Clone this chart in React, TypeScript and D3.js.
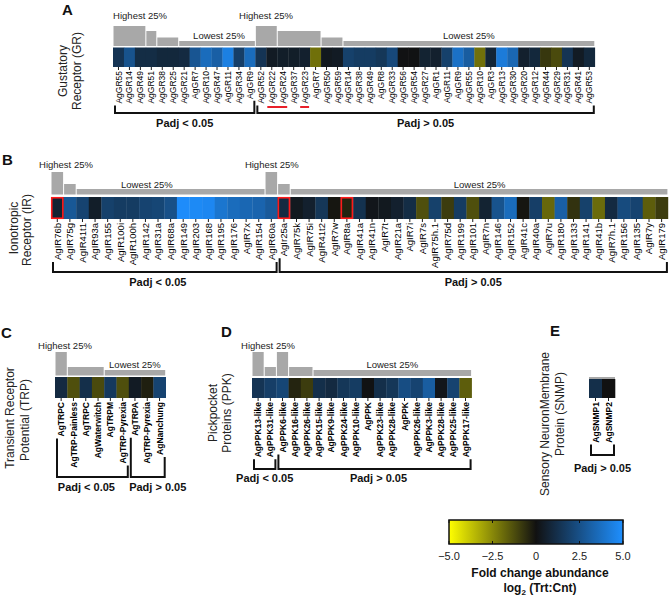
import React from 'react';
import * as d3 from 'd3';

// ---------------- DATA ----------------
const GR_LABELS = ["AgGR55","AgGR14","AgGR49","AgGR51","AgGR38","AgGR25","AgGR21","AgGR7","AgGR10","AgGR47","AgGR11","AgGR34","AgGR9",
  "AgGR52","AgGR22","AgGR24","AgGR37","AgGR23","AgGR7","AgGR50","AgGR59","AgGR14","AgGR38","AgGR49","AgGR8","AgGR33","AgGR56","AgGR54","AgGR27","AgGR1","AgGR11","AgGR9","AgGR55","AgGR10","AgGR3","AgGR13","AgGR30","AgGR20","AgGR12","AgGR44","AgGR29","AgGR31","AgGR41","AgGR53"];
const GR_VALUES = [1.4,2.6,1.1,1.1,0.9,0.9,1.0,2.7,3.6,3.1,4.4,1.8,3.6,
  1.4,0.4,0.5,0.5,0.6,-2.0,0.3,0.4,1.9,1.7,1.7,1.5,2.2,0.05,0.05,0.7,0.6,1.9,3.8,3.0,-2.0,0.8,4.2,3.4,0.6,0.9,-0.8,-1.2,1.4,0.4,0.9];
const GR_GROUPS = [13, 31];
const GR_QUARTILES: [number, number][] = [[0,3],[1,1],[2,2],[3,7],[0,2],[1,4],[2,2],[3,23]];

const IR_LABELS = ["AgIR76b","AgIR75g","AgIR41t1","AgIR93a","AgIR155","AgIR100i","AgIR100h","AgIR142","AgIR31a","AgIR68a","AgIR149","AgIR203","AgIR168","AgIR195","AgIR176","AgIR7x","AgIR154","AgIR60a",
  "AgIr25a","AgIR75k","AgIR75i","AgIR41t2","AgIR7w","AgIR8a","AgIR41a","AgIR41n","AgIR7t","AgIR21a","AgIR7i","AgIR7s","AgIR75h.1","AgIR75d","AgIR199","AgIR101","AgIR7n","AgIR146","AgIR152","AgIR41c","AgIR40a","AgIR7u","AgIR180","AgIR133","AgIR141","AgIR41b","AgIR7h.1","AgIR156","AgIR135","AgIR7y","AgIR179"];
const IR_VALUES = [0.7,2.8,2.0,0.5,1.9,1.7,1.7,2.0,2.1,2.5,4.9,4.8,4.7,4.0,3.6,3.4,3.3,2.9,
  1.0,0.3,0.6,1.5,-0.1,-0.4,1.3,0.2,0.3,0.6,1.1,-1.3,1.9,-0.9,1.7,-1.3,0.7,2.6,3.6,-0.1,1.8,-1.8,3.1,-0.7,1.9,-1.9,1.0,2.3,2.0,-1.6,-0.9];
const IR_GROUPS = [18, 31];
const IR_QUARTILES: [number, number][] = [[0,1],[1,1],[3,15],[0,1],[1,1],[3,30]];
const IR_MARKED = [0, 18, 23];

const TRP_LABELS = ["AgTRPC","AgTRP-Painless","AgTRPC","AgWaterwitch","AgTRPM","AgTRP-Pyrexia","AgTRPA","AgTRP-Pyrexia","AgNanchung"];
const TRP_VALUES = [1.0,-1.3,1.2,-1.2,1.6,-1.3,0.4,-0.3,2.0];
const TRP_GROUPS = [6, 3];
const TRP_QUARTILES: [number, number][] = [[0,1],[1,3],[3,5]];

const PPK_LABELS = ["AgPPK13-like","AgPPK31-like","AgPPK6-like","AgPPK16-like","AgPPK26-like","AgPPK15-like","AgPPK9-like","AgPPK24-like","AgPPK10-like","AgPPK","AgPPK23-like","AgPPK28-like","AgPPK","AgPPK26-like","AgPPK3-like","AgPPK28-like","AgPPK25-like","AgPPK17-like"];
const PPK_VALUES = [1.4,1.8,2.1,-0.4,-0.9,1.2,1.0,1.5,1.7,0.05,1.2,1.5,2.4,2.0,3.0,0.2,2.0,-1.6];
const PPK_GROUPS = [2, 16];
const PPK_QUARTILES: [number, number][] = [[0,1],[1,1],[0,1],[1,2],[3,13]];

const SNMP_LABELS = ["AgSNMP1","AgSNMP2"];
const SNMP_VALUES = [1.2, 0.0];
const SNMP_GROUPS = [2];

const COLOR_DOMAIN = [-5, 0, 5];
const COLOR_RANGE = ["#ffff00", "#111111", "#1e8fff"];
const COLORBAR_TICKS = [-5, -2.5, 0, 2.5, 5];

// ---------------- HELPERS ----------------
const FONT = '"Liberation Sans", Arial, Helvetica, sans-serif';
const color = d3.scaleLinear<string>().domain(COLOR_DOMAIN).range(COLOR_RANGE).clamp(true);

let _ctx: CanvasRenderingContext2D | null = null;
function measure(text: string, fs: number, bold: boolean) {
  if (!_ctx) _ctx = document.createElement('canvas').getContext('2d');
  if (!_ctx) return text.length * fs * 0.55;
  _ctx.font = `${bold ? 'bold ' : ''}${fs}px "Liberation Sans", Arial, sans-serif`;
  return _ctx.measureText(text).width;
}

type Cfg = {
  letter: string; letterX: number; letterY: number;
  title: string[]; titleX: number[]; titleCY: number[];
  labels: string[]; values: number[]; groups: number[];
  quart?: [number, number][];
  x0: number; cellW: number; cellTop: number; cellH: number;
  barBottom: number; levelH: number[];
  hiPos?: number[]; loPos?: number[]; hiY?: number; loY?: number;
  labelFs: number; labelBold: boolean;
  bracketY: number; padjY: number; padjDx?: number[];
  marked?: number[]; underlines?: [number, number][]; underlineY?: number;
  thinTop?: boolean;
};

const GREY = '#a8a8a8';

function Panel({ c }: { c: Cfg }) {
  const n = c.labels.length;
  const x = d3.scaleLinear().domain([0, n]).range([c.x0, c.x0 + n * c.cellW]);
  const cellBottom = c.cellTop + c.cellH;
  const labelStart = cellBottom + 4;

  const bars: { s: number; e: number; lvl: number }[] = [];
  if (c.quart) {
    let i = 0;
    c.quart.forEach(([lvl, cnt]) => { bars.push({ s: i, e: i + cnt, lvl }); i += cnt; });
  }
  const groups: { s: number; e: number; txt: string }[] = [];
  {
    let i = 0;
    c.groups.forEach((g, k) => {
      groups.push({ s: i, e: i + g, txt: k === 0 && c.groups.length > 1 ? 'Padj < 0.05' : 'Padj > 0.05' });
      i += g;
    });
  }
  const labLen = (i: number) => measure(c.labels[i], c.labelFs, c.labelBold);

  return (
    <g>
      <text x={c.letterX} y={c.letterY} fontSize={15} fontWeight="bold" fontFamily={FONT} fill="#111">{c.letter}</text>
      {c.title.map((t, i) => (
        <text key={'t' + i} transform={`translate(${c.titleX[i] + 4.2},${c.titleCY[i]}) rotate(-90)`} textAnchor="middle"
          fontSize={12} fontFamily={FONT} fill="#222">{t}</text>
      ))}
      {bars.map((b, i) => (
        <rect key={'b' + i} x={x(b.s) + 0.5} width={x(b.e) - x(b.s) - 1}
          y={c.barBottom - c.levelH[b.lvl]} height={c.levelH[b.lvl]} fill={GREY} />
      ))}
      {c.thinTop && <rect x={x(0)} width={x(n) - x(0)} y={c.cellTop - 2} height={2} fill={GREY} />}
      {(c.hiPos || []).map((p, i) => (
        <text key={'h' + i} x={x(p)} y={c.hiY} textAnchor="middle" fontSize={9.5} fontFamily={FONT} fill="#222">Highest 25%</text>
      ))}
      {(c.loPos || []).map((p, i) => (
        <text key={'l' + i} x={x(p)} y={c.loY} textAnchor="middle" fontSize={9.5} fontFamily={FONT} fill="#222">Lowest 25%</text>
      ))}
      {c.values.map((v, i) => (
        <rect key={'c' + i} x={x(i)} width={x(i + 1) - x(i) + 0.3} y={c.cellTop} height={c.cellH} fill={color(v)} />
      ))}
      {(c.marked || []).map((i) => (
        <rect key={'m' + i} x={x(i) + 0.75} width={x(i + 1) - x(i) - 1.5} y={c.cellTop + 0.75} height={c.cellH - 1.5}
          fill="none" stroke="#ff1a1a" strokeWidth={1.6} />
      ))}
      {c.labels.map((l, i) => {
        const cx = (x(i) + x(i + 1)) / 2;
        return (
          <g key={'lab' + i}>
            <line x1={cx} x2={cx} y1={cellBottom} y2={cellBottom + 3} stroke="#000" strokeWidth={0.9} />
            <text transform={`translate(${cx + c.labelFs * 0.36},${labelStart}) rotate(-90)`} textAnchor="end"
              fontSize={c.labelFs} fontWeight={c.labelBold ? 'bold' : 'normal'} fontFamily={FONT} fill="#000">{l}</text>
          </g>
        );
      })}
      {(c.underlines || []).map(([a, b], i) => (
        <line key={'u' + i} x1={x(a) + 1} x2={x(b + 1) - 1} y1={c.underlineY} y2={c.underlineY} stroke="#e8202a" strokeWidth={2} />
      ))}
      {groups.map((g, i) => {
        const l = x(g.s) + 2, r = x(g.e) - 1;
        const t1 = labelStart + labLen(g.s) + 2, t2 = labelStart + labLen(g.e - 1) + 2;
        const dx = c.padjDx ? c.padjDx[i] : 0;
        return (
          <g key={'g' + i}>
            <path d={`M${l},${t1}V${c.bracketY}H${r}V${t2}`} fill="none" stroke="#111" strokeWidth={2} />
            <text x={(l + r) / 2 + dx} y={c.padjY} textAnchor="middle" fontSize={11} fontWeight="bold" fontFamily={FONT} fill="#111">{g.txt}</text>
          </g>
        );
      })}
    </g>
  );
}

function ColorBar() {
  const x = d3.scaleLinear().domain([COLOR_DOMAIN[0], COLOR_DOMAIN[2]]).range([449, 623]);
  const top = 520, h = 24;
  const stops = d3.range(0, 1.0001, 0.1).map((f) => {
    const d = COLOR_DOMAIN[0] + f * (COLOR_DOMAIN[2] - COLOR_DOMAIN[0]);
    return { off: f, col: color(d) };
  });
  return (
    <g>
      <defs>
        <linearGradient id="cbar" x1="0" x2="1" y1="0" y2="0">
          {stops.map((s, i) => <stop key={i} offset={s.off} stopColor={s.col} />)}
        </linearGradient>
      </defs>
      <rect x={x(-5)} y={top} width={x(5) - x(-5)} height={h} fill="url(#cbar)" stroke="#111" strokeWidth={1.5} />
      {COLORBAR_TICKS.map((t) => (
        <g key={t}>
          <line x1={x(t)} x2={x(t)} y1={top} y2={top + 3} stroke="#111" strokeWidth={1} />
          <line x1={x(t)} x2={x(t)} y1={top + h - 3} y2={top + h} stroke="#111" strokeWidth={1} />
          <text x={x(t)} y={top + h + 16} textAnchor="middle" fontSize={11} fontFamily={FONT} fill="#222">
            {t === 0 ? '0' : d3.format('.1f')(t)}
          </text>
        </g>
      ))}
      <text x={540} y={577} textAnchor="middle" fontSize={12} fontWeight="bold" fontFamily={FONT} fill="#111">Fold change abundance</text>
      <text x={540} y={592} textAnchor="middle" fontSize={12} fontWeight="bold" fontFamily={FONT} fill="#111">
        log<tspan fontSize={8} dy={3}>2</tspan><tspan dy={-3}> (Trt:Cnt)</tspan>
      </text>
    </g>
  );
}

const PANELS: Cfg[] = [
  {
    letter: 'A', letterX: 62, letterY: 15,
    title: ['Gustatory', 'Receptor (GR)'], titleX: [63, 77], titleCY: [71, 71],
    labels: GR_LABELS, values: GR_VALUES, groups: GR_GROUPS, quart: GR_QUARTILES,
    x0: 113, cellW: 10.95, cellTop: 47.5, cellH: 19.5, barBottom: 46, levelH: [20, 15, 8.5, 5],
    hiPos: [2.47, 13.97], loPos: [9.68, 32.5], hiY: 18.5, loY: 38.5,
    labelFs: 8.5, labelBold: false, bracketY: 113, padjY: 127,
    underlines: [[14, 15], [17, 17]], underlineY: 107,
  },
  {
    letter: 'B', letterX: 2, letterY: 165,
    title: ['Ionotropic', 'Receptor (IR)'], titleX: [14, 27], titleCY: [228, 230],
    labels: IR_LABELS, values: IR_VALUES, groups: IR_GROUPS, quart: IR_QUARTILES,
    x0: 51, cellW: 12.59, cellTop: 197, cellH: 22, barBottom: 194.5, levelH: [22.5, 10.5, 8, 5.5],
    hiPos: [1.19, 17.54], loPos: [7.62, 34.05], hiY: 168, loY: 187.5,
    labelFs: 9.5, labelBold: false, bracketY: 272, padjY: 286, padjDx: [-7, 0],
    marked: IR_MARKED,
  },
  {
    letter: 'C', letterX: 1, letterY: 338,
    title: ['Transient Receptor', 'Potential (TRP)'], titleX: [10, 25], titleCY: [418, 420],
    labels: TRP_LABELS, values: TRP_VALUES, groups: TRP_GROUPS, quart: TRP_QUARTILES,
    x0: 55, cellW: 12.3, cellTop: 377, cellH: 21, barBottom: 375.5, levelH: [23.5, 8.5, 7, 5.5],
    hiPos: [0.81], loPos: [6.5], hiY: 349, loY: 368,
    labelFs: 8.5, labelBold: true, bracketY: 477, padjY: 491, padjDx: [-6, 10],
  },
  {
    letter: 'D', letterX: 221, letterY: 337,
    title: ['Pickpocket', 'Proteins (PPK)'], titleX: [213, 227], titleCY: [413, 413],
    labels: PPK_LABELS, values: PPK_VALUES, groups: PPK_GROUPS, quart: PPK_QUARTILES,
    x0: 252, cellW: 12.2, cellTop: 378, cellH: 20, barBottom: 376, levelH: [24, 9, 7, 6],
    hiPos: [1.31], loPos: [11.5], hiY: 349, loY: 368,
    labelFs: 8.5, labelBold: true, bracketY: 469, padjY: 482, padjDx: [0, 4],
  },
  {
    letter: 'E', letterX: 550, letterY: 336,
    title: ['Sensory NeuronMembrane', 'Protein (SNMP)'], titleX: [545, 560], titleCY: [424, 414],
    labels: SNMP_LABELS, values: SNMP_VALUES, groups: SNMP_GROUPS,
    x0: 589, cellW: 13, cellTop: 379, cellH: 19, barBottom: 377, levelH: [0, 0, 0, 0],
    labelFs: 8.5, labelBold: true, bracketY: 455, padjY: 472, thinTop: true,
  },
];

export default function App() {
  return (
    <svg width={669} height={597} style={{ position: 'absolute', left: 0, top: 0, background: '#fff' }}>
      <rect width={669} height={597} fill="#fff" />
      {PANELS.map((p) => <Panel key={p.letter} c={p} />)}
      <ColorBar />
    </svg>
  );
}
